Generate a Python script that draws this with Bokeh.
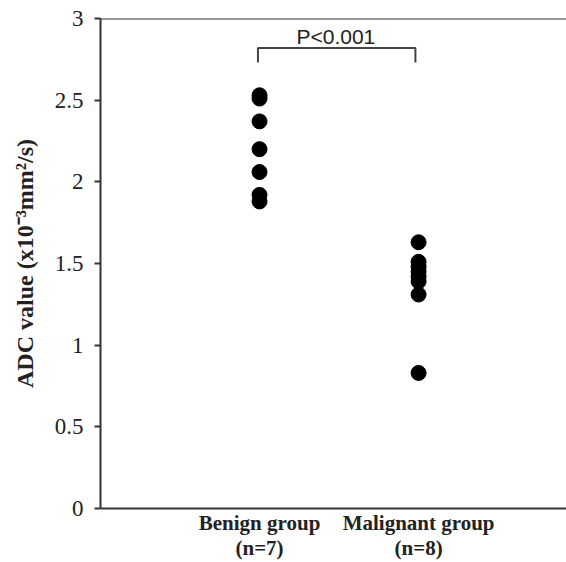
from bokeh.plotting import figure
from bokeh.models import Range1d, FixedTicker, Span, ColumnDataSource, Label
from bokeh.embed import file_html
from bokeh.resources import INLINE

# ---- data ----
groups = ["Benign group\n(n=7)", "Malignant group\n(n=8)"]
benign = [2.53, 2.51, 2.37, 2.20, 2.06, 1.92, 1.88]
malignant = [1.63, 1.51, 1.48, 1.45, 1.42, 1.39, 1.31, 0.83]
y_ticks = [0, 0.5, 1, 1.5, 2, 2.5, 3]
y_tick_labels = ["0", "0.5", "1", "1.5", "2", "2.5", "3"]
p_label = "P<0.001"

group_pos = [1, 2]

p = figure(width=566, height=562, output_backend="svg", toolbar_location=None,
           x_range=Range1d(0, 2.93), y_range=Range1d(0, 3),
           min_border_left=100, min_border_top=18, min_border_right=0, min_border_bottom=51)
p.outline_line_color = None
p.xgrid.grid_line_color = None
p.ygrid.grid_line_color = None
p.background_fill_color = "white"
p.border_fill_color = "white"

xs = [group_pos[0]] * len(benign) + [group_pos[1]] * len(malignant)
ys = benign + malignant
src = ColumnDataSource(dict(x=xs, y=ys))
p.scatter("x", "y", source=src, size=15, fill_color="black", line_color="black")

# y axis
ya = p.yaxis[0]
ya.ticker = FixedTicker(ticks=y_ticks)
ya.major_label_overrides = {t: l for t, l in zip(y_ticks, y_tick_labels)}
ya.minor_tick_line_color = None
ya.major_tick_in = 0
ya.major_tick_out = 6
ya.major_tick_line_width = 2
ya.major_tick_line_color = "#333333"
ya.axis_line_width = 2
ya.axis_line_color = "#333333"
ya.major_label_standoff = 11
ya.major_label_text_font = "Liberation Serif"
ya.major_label_text_font_size = "23px"
ya.major_label_text_color = "#222222"
ya.axis_label = "ADC value (x10\u207b\u00b3mm\u00b2/s)"
ya.axis_label_text_font = "Liberation Serif"
ya.axis_label_text_font_style = "bold"
ya.axis_label_text_font_size = "24px"
ya.axis_label_text_color = "#222222"
ya.axis_label_standoff = 14

# x axis
xa = p.xaxis[0]
xa.ticker = FixedTicker(ticks=group_pos)
xa.major_label_overrides = {g: l for g, l in zip(group_pos, groups)}
xa.major_tick_line_color = None
xa.minor_tick_line_color = None
xa.major_tick_out = 0
xa.major_tick_in = 0
xa.axis_line_width = 2
xa.axis_line_color = "#333333"
xa.major_label_standoff = 2
xa.major_label_text_font = "Liberation Serif"
xa.major_label_text_font_style = "bold"
xa.major_label_text_font_size = "21px"
xa.major_label_text_color = "#222222"
xa.major_label_text_line_height = 1.05

# top frame line
p.add_layout(Span(location=3, dimension="width", line_color="#333333", line_width=2))

# significance bracket
bracket_top = 2.82
bracket_bottom = 2.73
p.line([group_pos[0] - 0.01, group_pos[0] - 0.01, group_pos[1] - 0.02, group_pos[1] - 0.02],
       [bracket_bottom, bracket_top, bracket_top, bracket_bottom],
       line_color="#444444", line_width=2)
p.add_layout(Label(x=(group_pos[0] + group_pos[1]) / 2 - 0.02, y=bracket_top + 0.002, text=p_label,
                   text_align="center", text_baseline="bottom",
                   text_font="Liberation Sans", text_font_size="21px", text_color="#222222"))

open("out.html", "w").write(file_html(p, INLINE))
